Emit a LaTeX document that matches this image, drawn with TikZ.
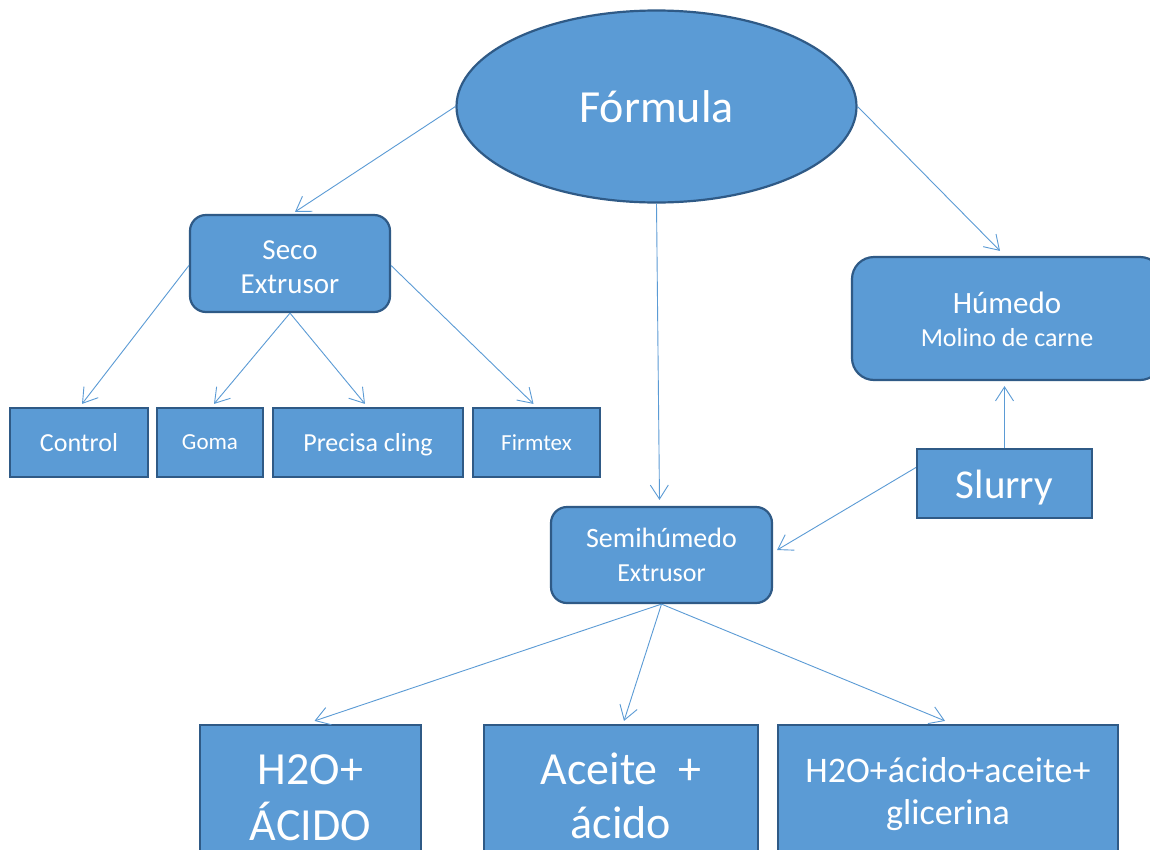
\documentclass[tikz,border=0pt]{standalone}
\usepackage{fontspec}
\setmainfont{Carlito}
\usetikzlibrary{shapes.geometric,arrows.meta}
\definecolor{boxfill}{HTML}{5B9BD5}
\definecolor{boxline}{HTML}{2F5A86}
\definecolor{arrowc}{HTML}{5B9BD5}
\newcommand{\lowr}[2]{\raisebox{-#1}[\height][\depth]{#2}}
\tikzset{
  shp/.style={draw=boxline,line width=2.2pt,fill=boxfill,text=white,align=center,inner sep=0pt},
  sq/.style={shp,rectangle},
  rnd/.style={shp,rectangle,rounded corners=16pt},
  conn/.style={draw=arrowc,line width=0.9pt,-{Straight Barb[length=14pt,width=18pt,line width=0.9pt]}}
}
\begin{document}
\begin{tikzpicture}[x=1pt,y=-1pt]
\clip (0,0) rectangle (1150,849);
\fill[white] (0,0) rectangle (1150,849);
% nodes
\node[shp,ellipse,minimum width=400pt,minimum height=192pt,font=\fontsize{46}{54}\selectfont] (formula) at (656.5,106.5) {Fórmula};
\node[rnd,minimum width=200pt,minimum height=97pt,font=\fontsize{29}{34}\selectfont] (seco) at (290,263.5) {\lowr{4pt}{Seco}\\\lowr{4pt}{Extrusor}};
\node[sq,minimum width=138pt,minimum height=69pt,font=\fontsize{26}{30}\selectfont] (control) at (79,442.5) {Control};
\node[sq,minimum width=106pt,minimum height=69pt,font=\fontsize{23}{28}\selectfont] (goma) at (210,442.5) {Goma};
\node[sq,minimum width=190pt,minimum height=69pt,font=\fontsize{26}{30}\selectfont] (precisa) at (368,442.5) {\lowr{2pt}{Precisa cling}};
\node[sq,minimum width=127pt,minimum height=69pt,font=\fontsize{23}{28}\selectfont] (firmtex) at (536.5,442.5) {Firmtex};
\node[shp,rectangle,rounded corners=22pt,minimum width=310pt,minimum height=123pt,font=\fontsize{26}{35}\selectfont] (humedo) at (1007,318.5) {{\fontsize{31}{35}\selectfont \lowr{2pt}{Húmedo}}\\Molino de carne};
\node[sq,minimum width=175pt,minimum height=69pt,font=\fontsize{41}{48}\selectfont] (slurry) at (1004.5,483.5) {\lowr{4pt}{Slurry}};
\node[rnd,minimum width=221pt,minimum height=96pt,font=\fontsize{26}{34}\selectfont] (semi) at (661.5,555) {{\fontsize{28}{34}\selectfont Semihúmedo}\\Extrusor};
\node[sq,minimum width=221pt,minimum height=146pt,font=\fontsize{46}{56}\selectfont] (b1) at (310.5,798) {H2O+\\ÁCIDO};
\node[sq,minimum width=274pt,minimum height=142pt,font=\fontsize{46}{54}\selectfont] (b2) at (621,796) {Aceite\ \ +\\ácido};
\node[sq,minimum width=340pt,minimum height=138pt,font=\fontsize{36}{42}\selectfont] (b3) at (948,794) {H2O+ácido+aceite+\\glicerina};
% connectors
\draw[conn] (formula.west) -- ([xshift=5pt,yshift=2pt]seco.north);
\draw[conn] (formula.east) -- ([xshift=-7pt,yshift=5pt]humedo.north);
\draw[conn] (formula.south) -- ([xshift=-2pt,yshift=6pt]semi.north);
\draw[conn] ([yshift=-2pt]seco.west) -- ([xshift=3pt,yshift=3pt]control.north);
\draw[conn] (seco.south) -- ([xshift=4pt,yshift=3pt]goma.north);
\draw[conn] (seco.south) -- ([xshift=-3pt,yshift=3pt]precisa.north);
\draw[conn] ([yshift=-2pt]seco.east) -- ([xshift=-3pt,yshift=3pt]firmtex.north);
\draw[conn] (slurry.north) -- ([yshift=-5pt]slurry.north |- humedo.south);
\draw[conn] ([yshift=16pt]slurry.west) -- ([xshift=4pt,yshift=5pt]semi.east);
\draw[conn] (semi.south) -- ([xshift=4pt,yshift=3pt]b1.north);
\draw[conn] (semi.south) -- ([xshift=3pt,yshift=3pt]b2.north);
\draw[conn] (semi.south) -- ([xshift=-3pt,yshift=3pt]b3.north);
\end{tikzpicture}
\end{document}
